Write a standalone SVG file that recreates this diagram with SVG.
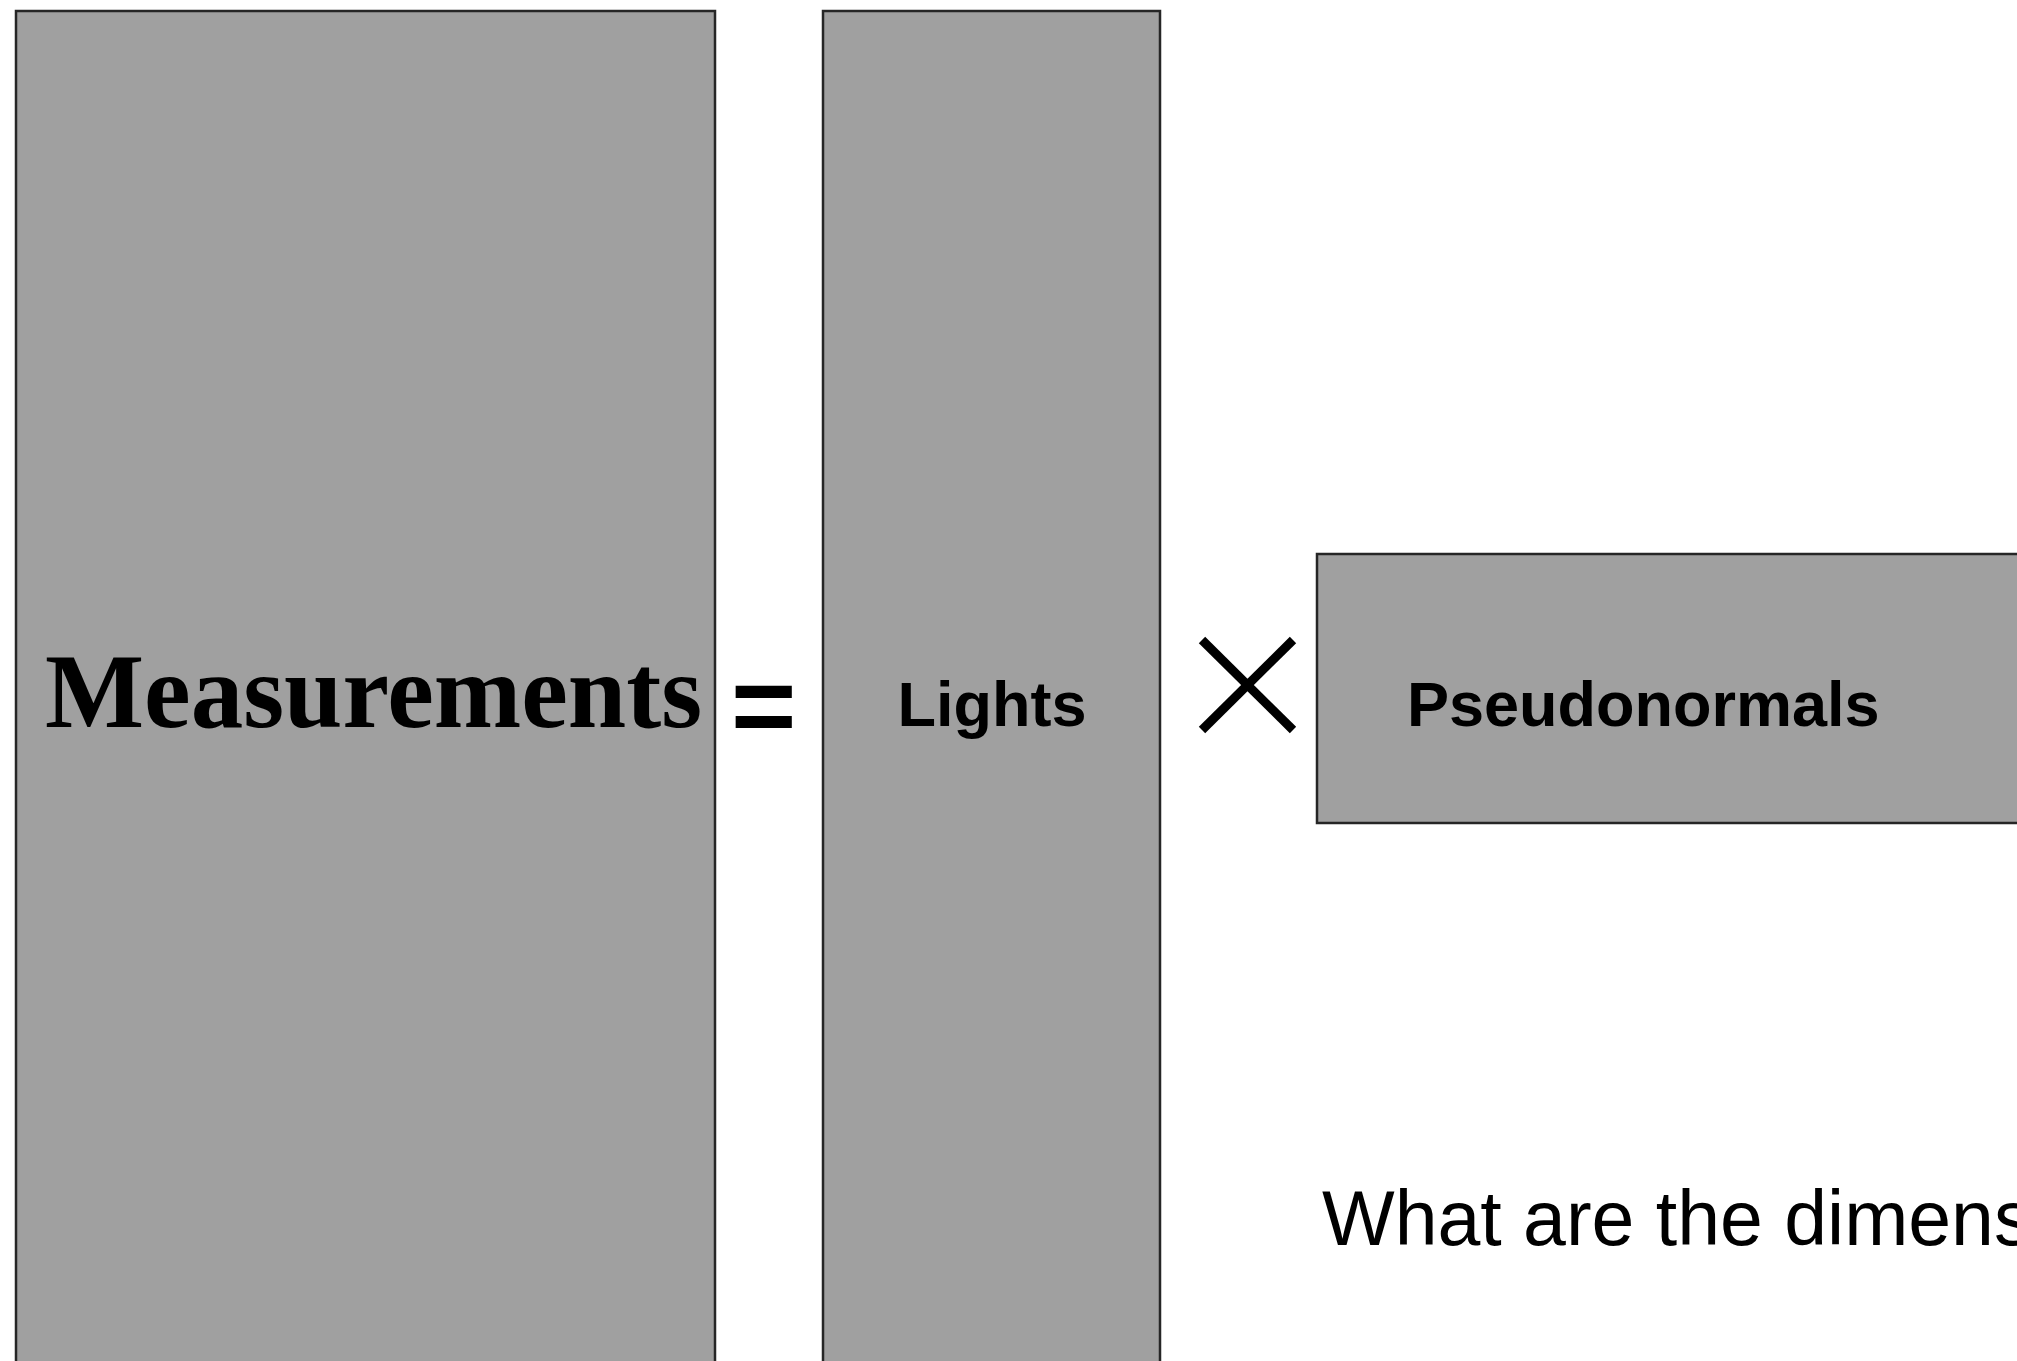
<svg xmlns="http://www.w3.org/2000/svg" width="2017" height="1361" viewBox="0 0 2017 1361">
<style>
.box{fill:#a0a0a0;stroke:#262626;stroke-width:2.5}
.sans{font-family:"Liberation Sans",Arial,sans-serif;fill:#000}
.bold{font-weight:bold}
.serif{font-family:"Liberation Serif","Times New Roman",serif;font-weight:bold;fill:#000}
.op{stroke:#000;stroke-width:9;stroke-linecap:butt;fill:none}
</style>
<rect width="2017" height="1361" fill="#fff"/>
<g id="measurements">
<rect class="box" x="16" y="11" width="699" height="1370"/>
<text class="serif" x="45" y="727" font-size="105">Measurements</text>
</g>
<g id="equals">
<text class="sans bold" x="731" y="744" font-size="112">=</text>
</g>
<g id="lights">
<rect class="box" x="823" y="11" width="337" height="1370"/>
<text class="sans bold" x="992" y="726" font-size="63" text-anchor="middle">Lights</text>
</g>
<g id="times">
<line class="op" x1="1202" y1="640" x2="1293" y2="730"/>
<line class="op" x1="1293" y1="640" x2="1202" y2="730"/>
</g>
<g id="pseudonormals">
<rect class="box" x="1317" y="554" width="760" height="269"/>
<text class="sans bold" x="1407" y="726" font-size="63">Pseudonormals</text>
</g>
<g id="question">
<text class="sans" x="1322" y="1245" font-size="77">What are the dimens</text>
</g>
<g id="connectors"></g>
</svg>
